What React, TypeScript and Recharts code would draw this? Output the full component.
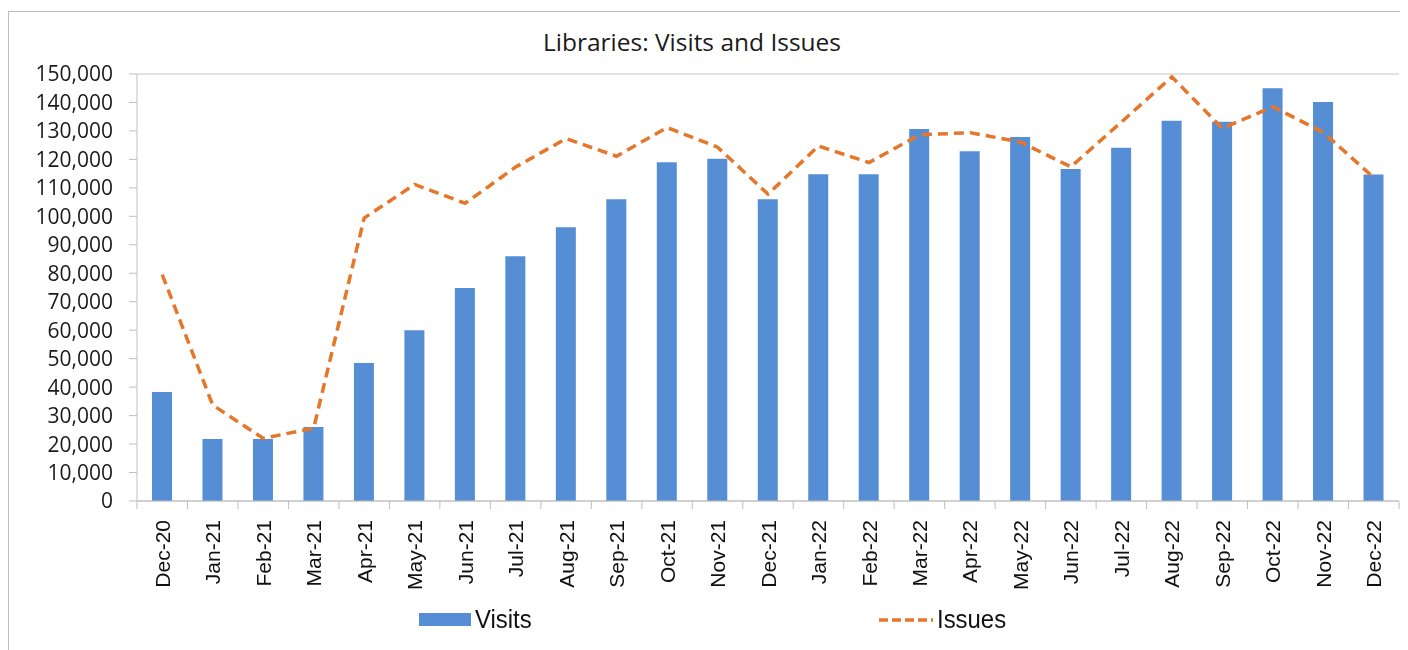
import { ComposedChart, Bar, Line, XAxis, YAxis, CartesianGrid } from 'recharts'

const months = [
  'Dec-20', 'Jan-21', 'Feb-21', 'Mar-21', 'Apr-21', 'May-21', 'Jun-21', 'Jul-21', 'Aug-21',
  'Sep-21', 'Oct-21', 'Nov-21', 'Dec-21', 'Jan-22', 'Feb-22', 'Mar-22', 'Apr-22', 'May-22',
  'Jun-22', 'Jul-22', 'Aug-22', 'Sep-22', 'Oct-22', 'Nov-22', 'Dec-22'
]

const visits = [
  38300, 21800, 21800, 26000, 48500, 60000, 74800, 86000, 96200,
  106000, 119000, 120200, 106000, 114800, 114800, 130700, 122900, 127900,
  116600, 124100, 133600, 133200, 145000, 140200, 114700
]

const issues = [
  79500, 33700, 22000, 25600, 99400, 111200, 104600, 117300, 127300,
  121100, 131200, 124300, 107800, 124700, 118900, 128600, 129400, 126100,
  117400, 133100, 149000, 130900, 138500, 129500, 113600
]

const yTicks = [0, 10000, 20000, 30000, 40000, 50000, 60000, 70000, 80000, 90000, 100000, 110000, 120000, 130000, 140000, 150000]

const data = months.map((m, i) => ({ month: m, visits: visits[i], issues: issues[i] }))

const BLUE = '#558ED5'
const ORANGE = '#E5762A'
const GRID = '#D9D9D9'
const AXIS = '#BFBFBF'

// chart geometry
const CHART_W = 1400
const CHART_H = 630
const MARGIN = { top: 62, right: 9, bottom: 46, left: 1 }
const Y_AXIS_W = 128
const HALF_BAND = (CHART_W - MARGIN.right - MARGIN.left - Y_AXIS_W) / months.length / 2

const XTick = ({ x, y, payload, index }: any) => {
  const ty = y + 19
  return (
    <g>
      <line x1={x - HALF_BAND} x2={x - HALF_BAND} y1={y} y2={y + 8} stroke={AXIS} />
      {index === months.length - 1 && (
        <line x1={x + HALF_BAND} x2={x + HALF_BAND} y1={y} y2={y + 8} stroke={AXIS} />
      )}
      <text
        x={x}
        y={ty}
        transform={`rotate(-90 ${x} ${ty})`}
        textAnchor="end"
        dy="0.36em"
        fontFamily="'Liberation Sans', Arial, sans-serif"
        fontSize={21}
        fill="#111"
      >
        {payload.value}
      </text>
    </g>
  )
}

export default function App() {
  return (
    <div style={{
      position: 'relative',
      top: 3,
      width: 1392,
      height: CHART_H,
      overflow: 'hidden',
      borderTop: '1px solid #BDBDBD',
      boxSizing: 'border-box',
      background: '#fff'
    }}>
      {/* frame's left edge, runs off the bottom of the page */}
      <div style={{ position: 'fixed', left: 8, top: 11, bottom: 0, width: 1, background: '#BDBDBD' }} />

      {/* Title */}
      <div style={{
        position: 'absolute',
        left: 684,
        top: 13,
        transform: 'translateX(-50%)',
        whiteSpace: 'nowrap',
        fontFamily: "'Open Sans', 'Noto Sans', sans-serif",
        fontSize: 24.5,
        color: '#1a1a1a'
      }}>
        Libraries: Visits and Issues
      </div>

      <ComposedChart width={CHART_W} height={CHART_H} data={data} margin={MARGIN}>
        <CartesianGrid vertical={false} stroke={GRID} strokeWidth={1.3} />
        <XAxis
          dataKey="month"
          interval={0}
          height={95}
          tickSize={0}
          tickMargin={0}
          tickLine={false}
          axisLine={{ stroke: AXIS }}
          tick={<XTick />}
        />
        <YAxis
          yAxisId="left"
          width={Y_AXIS_W}
          domain={[0, 150000]}
          ticks={yTicks}
          interval={0}
          tickSize={8}
          tickMargin={16}
          axisLine={{ stroke: AXIS }}
          tickLine={{ stroke: AXIS }}
          tick={{ fill: '#1a1a1a', fontSize: 21, fontFamily: "'Open Sans', 'Noto Sans', sans-serif" }}
          tickFormatter={(v) => v.toLocaleString('en-US')}
        />
        <YAxis
          yAxisId="frame"
          orientation="right"
          width={0}
          domain={[0, 150000]}
          tick={false}
          tickLine={false}
          axisLine={{ stroke: GRID, strokeWidth: 1.3 }}
        />
        <Bar yAxisId="left" dataKey="visits" name="Visits" fill={BLUE} barSize={20} isAnimationActive={false} />
        <Line
          yAxisId="left"
          type="linear"
          dataKey="issues"
          name="Issues"
          stroke={ORANGE}
          strokeWidth={3.5}
          strokeDasharray="10 6"
          dot={false}
          activeDot={false}
          isAnimationActive={false}
        />
      </ComposedChart>

      {/* Legend */}
      {[
        { label: 'Visits', left: 411, kind: 'bar' },
        { label: 'Issues', left: 871, kind: 'line' }
      ].map(item => (
        <div key={item.label} style={{
          position: 'absolute',
          left: item.left,
          top: 592,
          display: 'flex',
          alignItems: 'center',
          gap: 4,
          fontFamily: "'Liberation Sans Narrow', 'Arial Narrow', 'Liberation Sans', sans-serif",
          fontSize: 26,
          color: '#111'
        }}>
          {item.kind === 'bar' ? (
            <div style={{ width: 52, height: 13, background: BLUE }} />
          ) : (
            <svg width={54} height={14}>
              <line x1={0} x2={54} y1={7} y2={7} stroke={ORANGE} strokeWidth={3.5} strokeDasharray="9 4" />
            </svg>
          )}
          <span style={{ display: 'inline-block', transform: 'scaleX(0.92)', transformOrigin: 'left center' }}>
            {item.label}
          </span>
        </div>
      ))}
    </div>
  )
}
